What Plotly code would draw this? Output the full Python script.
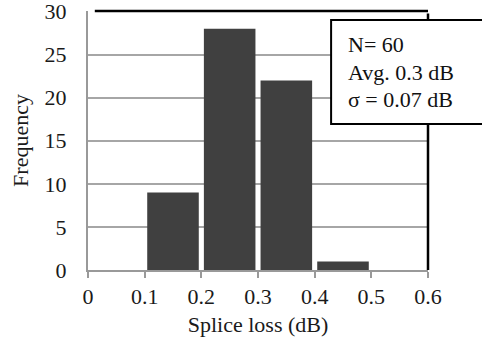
import plotly.graph_objects as go

bin_centers = [0.15, 0.25, 0.35, 0.45]
frequency = [9, 28, 22, 1]
x_ticks = [0, 0.1, 0.2, 0.3, 0.4, 0.5, 0.6]
x_tick_labels = ["0", "0.1", "0.2", "0.3", "0.4", "0.5", "0.6"]
y_ticks = [0, 5, 10, 15, 20, 25, 30]
stats_lines = ["N= 60", "Avg. 0.3 dB", "σ = 0.07 dB"]

FONT = "Liberation Serif"
TXT = "#1a1a1a"

fig = go.Figure()
fig.add_trace(go.Bar(
    x=bin_centers, y=frequency, width=0.091,
    marker=dict(color="#404040", line=dict(width=0)),
))

fig.update_layout(
    width=482, height=342,
    margin=dict(l=88, r=54, t=11, b=72),
    paper_bgcolor="white", plot_bgcolor="white",
    showlegend=False,
    font=dict(family=FONT, size=22, color=TXT),
    xaxis=dict(
        range=[0, 0.6], tickvals=x_ticks, ticktext=x_tick_labels,
        showgrid=False, zeroline=False,
        showline=True, linecolor="#999999", linewidth=2,
        ticks="outside", ticklen=6, tickcolor="#999999", tickwidth=2,
        tickfont=dict(family=FONT, size=22, color=TXT),
        ticklabeloverflow="allow", automargin=False,
        title=dict(text="Splice loss (dB)", font=dict(family=FONT, size=22, color=TXT), standoff=8),
        fixedrange=True,
    ),
    yaxis=dict(
        range=[0, 30.05], tickvals=y_ticks,
        showgrid=True, gridcolor="#a6a6a6", gridwidth=2,
        zeroline=False,
        showline=True, linecolor="#999999", linewidth=2,
        ticks="", ticklabelstandoff=15,
        tickfont=dict(family=FONT, size=22, color=TXT),
        ticklabeloverflow="allow", automargin=False,
        title=dict(text="Frequency", font=dict(family=FONT, size=22, color=TXT), standoff=10),
        fixedrange=True,
    ),
    shapes=[
        dict(type="line", xref="paper", yref="paper", x0=0.02, x1=1.0, y0=1, y1=1,
             line=dict(color="black", width=2.5)),
        dict(type="line", xref="paper", yref="paper", x0=1.0, x1=1.0, y0=0, y1=0.99,
             line=dict(color="black", width=2.5)),
        dict(type="rect", xref="paper", yref="paper", x0=0.715, x1=1.35, y0=0.564, y1=0.965,
             fillcolor="white", line=dict(color="black", width=2)),
    ],
)

line_y = [0.869, 0.761, 0.657]
for txt, yy in zip(stats_lines, line_y):
    fig.add_annotation(text=txt, xref="paper", yref="paper", x=0.76, y=yy,
                       xanchor="left", yanchor="middle", showarrow=False,
                       font=dict(family=FONT, size=22, color="#111111"))

fig.write_html("out.html")
